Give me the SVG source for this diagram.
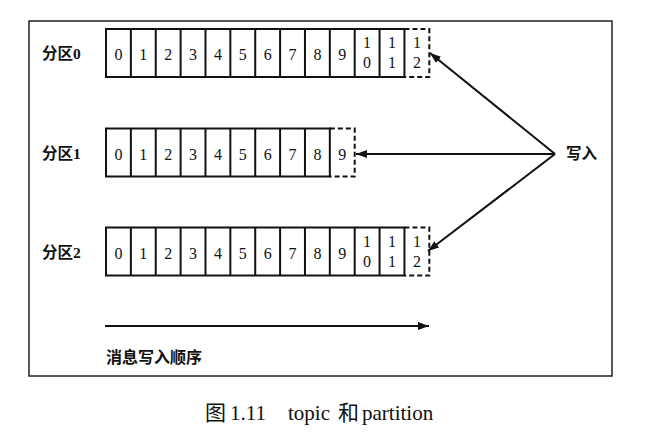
<svg xmlns="http://www.w3.org/2000/svg" width="647" height="438" viewBox="0 0 647 438">
<defs>
<marker id="ah" markerUnits="userSpaceOnUse" markerWidth="11" markerHeight="8" refX="11" refY="4" orient="auto">
<path d="M0,0 L11,4 L0,8 z" fill="#111"/>
</marker>
<style>
.frame{fill:none;stroke:#222;stroke-width:1.5}
.cell{fill:#fff;stroke:#111;stroke-width:2}
.div{stroke:#111;stroke-width:2}
.dash{fill:none;stroke:#111;stroke-width:2;stroke-dasharray:5,3}
.num{font-family:"Liberation Serif",serif;font-size:16px;fill:#111;text-anchor:middle}
.lbl{font-family:"Liberation Serif","Noto Sans CJK SC",sans-serif;font-size:15.5px;font-weight:bold;fill:#111}
.cap{font-family:"Liberation Serif","Noto Sans CJK SC",serif;font-size:21px;fill:#111}
.conn{stroke:#111;stroke-width:2;fill:none;marker-end:url(#ah)}
</style>
</defs>
<rect width="647" height="438" fill="#fff"/>
<rect class="frame" x="29" y="21" width="583" height="355"/>

<g id="partition0">
<text class="lbl" x="42" y="59">分区0</text>
<rect class="cell" x="106" y="29" width="298.44" height="48"/>
<path class="div" d="M130.87,29V77M155.74,29V77M180.61,29V77M205.48,29V77M230.35,29V77M255.22,29V77M280.09,29V77M304.96,29V77M329.83,29V77M354.7,29V77M379.57,29V77"/>
<path class="dash" d="M404.44,29H429.31V77H404.44"/>
<g class="num">
<text x="118.4" y="60">0</text><text x="143.3" y="60">1</text><text x="168.2" y="60">2</text><text x="193" y="60">3</text><text x="217.9" y="60">4</text><text x="242.8" y="60">5</text><text x="267.7" y="60">6</text><text x="292.5" y="60">7</text><text x="317.4" y="60">8</text><text x="342.3" y="60">9</text>
<text x="367.1" y="48">1</text><text x="367.1" y="68">0</text>
<text x="392" y="48">1</text><text x="392" y="68">1</text>
<text x="416.9" y="48">1</text><text x="416.9" y="68">2</text>
</g>
</g>

<g id="partition1">
<text class="lbl" x="42" y="159">分区1</text>
<rect class="cell" x="106" y="128.5" width="223.83" height="48"/>
<path class="div" d="M130.87,128.5V176.5M155.74,128.5V176.5M180.61,128.5V176.5M205.48,128.5V176.5M230.35,128.5V176.5M255.22,128.5V176.5M280.09,128.5V176.5M304.96,128.5V176.5"/>
<path class="dash" d="M329.83,128.5H354.7V176.5H329.83"/>
<g class="num">
<text x="118.4" y="159.5">0</text><text x="143.3" y="159.5">1</text><text x="168.2" y="159.5">2</text><text x="193" y="159.5">3</text><text x="217.9" y="159.5">4</text><text x="242.8" y="159.5">5</text><text x="267.7" y="159.5">6</text><text x="292.5" y="159.5">7</text><text x="317.4" y="159.5">8</text><text x="342.3" y="159.5">9</text>
</g>
</g>

<g id="partition2">
<text class="lbl" x="42" y="258">分区2</text>
<rect class="cell" x="106" y="227.5" width="298.44" height="48"/>
<path class="div" d="M130.87,227.5V275.5M155.74,227.5V275.5M180.61,227.5V275.5M205.48,227.5V275.5M230.35,227.5V275.5M255.22,227.5V275.5M280.09,227.5V275.5M304.96,227.5V275.5M329.83,227.5V275.5M354.7,227.5V275.5M379.57,227.5V275.5"/>
<path class="dash" d="M404.44,227.5H429.31V275.5H404.44"/>
<g class="num">
<text x="118.4" y="258.5">0</text><text x="143.3" y="258.5">1</text><text x="168.2" y="258.5">2</text><text x="193" y="258.5">3</text><text x="217.9" y="258.5">4</text><text x="242.8" y="258.5">5</text><text x="267.7" y="258.5">6</text><text x="292.5" y="258.5">7</text><text x="317.4" y="258.5">8</text><text x="342.3" y="258.5">9</text>
<text x="367.1" y="246.5">1</text><text x="367.1" y="266.5">0</text>
<text x="392" y="246.5">1</text><text x="392" y="266.5">1</text>
<text x="416.9" y="246.5">1</text><text x="416.9" y="266.5">2</text>
</g>
</g>

<g id="writer">
<text class="lbl" x="566" y="159">写入</text>
</g>

<g id="order">
<text class="lbl" x="106" y="363" style="font-size:16px">消息写入顺序</text>
</g>

<g id="connectors">
<line class="conn" x1="555" y1="154" x2="430" y2="53"/>
<line class="conn" x1="555" y1="154" x2="356" y2="154"/>
<line class="conn" x1="555" y1="154" x2="428" y2="251"/>
<line class="conn" x1="105" y1="326" x2="429" y2="326"/>
</g>

<g id="caption">
<text class="cap" y="420"><tspan x="205">图</tspan><tspan x="230">1.11</tspan><tspan x="288">topic</tspan><tspan x="338">和</tspan><tspan x="362">partition</tspan></text>
</g>
</svg>
